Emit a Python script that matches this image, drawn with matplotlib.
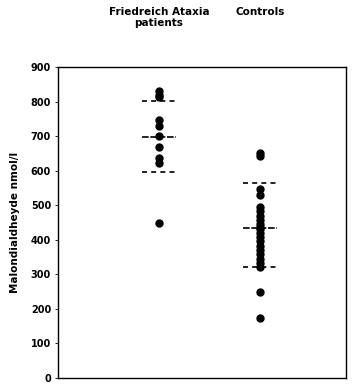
import numpy as np
import matplotlib.pyplot as plt

# values (Malondialdehyde, nmol/l)
groups = ['Friedreich Ataxia\npatients', 'Controls']
fa_values = [830, 820, 812, 746, 729, 700, 669, 636, 622, 449]
ctrl_values = [652, 643, 548, 530, 495, 482, 470, 458, 447, 438, 430,
               420, 408, 395, 382, 370, 358, 345, 333, 320, 250, 173]
group_means = [698, 433]
group_sd_hi = [802, 563]
group_sd_lo = [597, 322]
yticks = [0, 100, 200, 300, 400, 500, 600, 700, 800, 900]

plt.rcParams['font.family'] = ['DejaVu Sans']
plt.rcParams['font.weight'] = 'bold'

fig = plt.figure(figsize=(3.6, 3.9), dpi=100)
ax = fig.add_axes([0.161, 0.031, 0.800, 0.797])

xpos = [1, 2]
for x, vals in zip(xpos, [fa_values, ctrl_values]):
    ax.plot([x] * len(vals), vals, 'o', color='black', ms=5, mec='black')

hw = 0.17
for x, m, hi, lo in zip(xpos, group_means, group_sd_hi, group_sd_lo):
    ax.plot([x - hw, x + hw], [m, m], color='black', lw=1.2, ls=(0, (4, 1)))
    ax.plot([x - hw, x + hw], [hi, hi], color='black', lw=1.2, ls=(0, (3, 2.5)))
    ax.plot([x - hw, x + hw], [lo, lo], color='black', lw=1.2, ls=(0, (3, 2.5)))

ax.set_xlim(0, 2.85)
ax.set_ylim(0, 900)
ax.set_xticks([])
ax.set_yticks(yticks)
ax.set_yticklabels([str(t) for t in yticks], fontsize=7, fontweight='bold')
ax.tick_params(axis='y', length=2, width=0.6, pad=3)
ax.set_ylabel('Malondialdheyde nmol/l', fontsize=7.5, fontweight='bold', labelpad=8)
for s in ax.spines.values():
    s.set_linewidth(1.0)

# group labels above the plot
for x, g in zip(xpos, groups):
    xf = ax.transData.transform((x, 0))[0] / fig.bbox.width
    fig.text(xf, 1 - 7 / 390, g, ha='center', va='top', fontsize=7.5,
             fontweight='bold', linespacing=1.15)

plt.savefig('out.png', dpi=100)
plt.close()
